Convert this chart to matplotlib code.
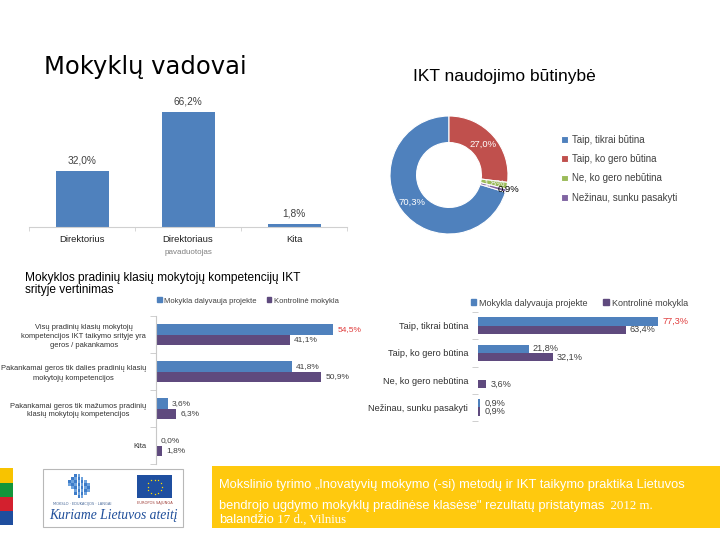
import numpy as np
import matplotlib.pyplot as plt
import matplotlib.patches as patches

W, H = 720, 540

# Mokyklu vadovai
lead_cats = ["Direktorius", "Direktoriaus", "Kita"]
lead_sub = ["", "pavaduotojas", ""]
lead_vals = [32.0, 66.2, 1.8]

# IKT naudojimo butinybe (vadovai)
need_cats = ["Taip, tikrai būtina", "Taip, ko gero būtina",
             "Ne, ko gero nebūtina", "Nežinau, sunku pasakyti"]
need_vals = [70.3, 27.0, 1.8, 0.9]

# kompetenciju vertinimas
series_names = ["Mokykla dalyvauja projekte", "Kontrolinė mokykla"]
comp_cats = ["Visų pradinių klasių mokytojų\nkompetencijos IKT taikymo srityje yra\ngeros / pakankamos",
             "Pakankamai geros tik dalies pradinių klasių\nmokytojų kompetencijos",
             "Pakankamai geros tik mažumos pradinių\nklasių mokytojų kompetencijos",
             "Kita"]
comp_proj = [54.5, 41.8, 3.6, 0.0]
comp_ctrl = [41.1, 50.9, 6.3, 1.8]

# butinybe (mokytojai)
need_proj = [77.3, 21.8, 0.0, 0.9]
need_ctrl = [63.4, 32.1, 3.6, 0.9]

BLUE = '#4F81BD'
PURPLE = '#5F4A7E'
PIE_COLORS = ['#4F81BD', '#C0504D', '#9BBB59', '#8064A2']
TXT = '#404040'
SANS = ['Liberation Sans', 'DejaVu Sans']
SERIF = ['Liberation Serif', 'DejaVu Serif']


def box(l, t, r, b):
    return [l / W, 1 - b / H, (r - l) / W, (b - t) / H]


def fx(x):
    return x / W


def fy(y):
    return 1 - y / H


def fmt(v):
    return f"{v:.1f}%".replace(".", ",")


fig = plt.figure(figsize=(7.2, 5.4), dpi=100)

# background / footer decorations in pixel coordinates
bg = fig.add_axes([0, 0, 1, 1])
bg.set_xlim(0, W)
bg.set_ylim(H, 0)
bg.axis('off')

flag = [('#F8C300', 468, 483), ('#13953B', 483, 497), ('#D3202E', 497, 511), ('#1F4E9E', 511, 525)]
for c, t, b in flag:
    bg.add_patch(patches.Rectangle((0, t), 13, b - t, color=c, lw=0))

bg.add_patch(patches.Rectangle((43, 469), 140, 58, fc='white', ec='#B8B8B8', lw=0.8))
bg.add_patch(patches.Rectangle((137, 475), 35, 23, fc='#1F4FA0', lw=0))
for a in np.linspace(0, 2 * np.pi, 13)[:-1]:
    bg.plot(154.5 + 7 * np.cos(a), 486.5 + 7 * np.sin(a), 's', ms=0.9, color='#FFDD00', mew=0)
# pixel map logo
logo = ["..##....",
        ".####...",
        "######..",
        "#######.",
        ".######.",
        "..#####.",
        "..####..",
        "...##..."]
for r, row in enumerate(logo):
    for c, ch in enumerate(row):
        if ch == '#':
            bg.add_patch(patches.Rectangle((68 + c * 3.2, 474 + r * 3), 2.6, 2.5,
                                           color=['#3D7CC9', '#6FA3DD'][(r + c) % 2], lw=0))
bg.text(82, 504, "MOKSLO · EDUKACIJOS · LANGAI", fontsize=2.6, color='#4A6A9A', ha='center', va='center')
bg.text(154.5, 503, "EUROPOS SĄJUNGA", fontsize=2.6, color='#A0403A', ha='center', va='center')
bg.text(113, 516, "Kuriame Lietuvos ateitį", fontsize=9.8, color='#1F4E9A', style='italic',
        family=SERIF, ha='center', va='center')

bg.add_patch(patches.Rectangle((212, 466), 508, 62, fc='#FFC90E', lw=0))
foot = dict(fontsize=9.3, color='white', va='center')
bg.text(219, 485, "Mokslinio tyrimo „Inovatyvių mokymo (-si) metodų ir IKT taikymo praktika Lietuvos",
        family=SANS, **foot)
t2 = bg.text(219, 506, "bendrojo ugdymo mokyklų pradinėse klasėse\" rezultatų pristatymas",
             family=SANS, **foot)
bg.annotate("  2012 m.", xy=(1, 0.5), xycoords=t2, family=SERIF, **foot)
t3 = bg.text(219, 520, "balandžio", family=SANS, **foot)
bg.annotate(" 17 d., Vilnius", xy=(1, 0.5), xycoords=t3, family=SERIF, **foot)

# titles
fig.text(fx(44), fy(67), "Mokyklų vadovai", fontsize=17.5, family=['DejaVu Sans'], va='center')
fig.text(fx(413), fy(76), "IKT naudojimo būtinybė", fontsize=12.5, family=SANS, va='center')
fig.text(fx(25), fy(284), "Mokyklos pradinių klasių mokytojų kompetencijų IKT\nsrityje vertinimas",
         fontsize=8.6, family=SANS, va='center', linespacing=0.9)

# --- chart 1: vadovai ---
ax1 = fig.add_axes(box(29, 100, 347, 227))
ax1.set_facecolor('none')
x1 = np.arange(len(lead_vals))
ax1.bar(x1, lead_vals, width=0.5, color=BLUE)
for xi, v in zip(x1, lead_vals):
    ax1.annotate(fmt(v), (xi, v), xytext=(0, 4), textcoords='offset points',
                 ha='center', va='bottom', fontsize=7.3, color=TXT, family=SANS)
ax1.set_xlim(-0.5, 2.5)
ax1.set_ylim(0, 73)
for s in ['top', 'right', 'left']:
    ax1.spines[s].set_visible(False)
ax1.spines['bottom'].set_color('#D0D0D0')
ax1.set_yticks([])
ax1.set_xticks(x1)
ax1.set_xticklabels(lead_cats, fontsize=6.8, color='#202020', family=SANS)
ax1.tick_params(axis='x', length=0, pad=6)
ax1.set_xticks([-0.5, 0.5, 1.5, 2.5], minor=True)
ax1.tick_params(axis='x', which='minor', length=3, color='#D0D0D0')
for xi, s in zip(x1, lead_sub):
    if s:
        ax1.annotate(s, (xi, 0), xytext=(0, -15.5), textcoords='offset points', ha='center',
                     va='top', fontsize=5.8, color='#808080', family=SANS, annotation_clip=False)

# --- chart 2: donut ---
ax2 = fig.add_axes(box(390, 116, 508, 234))
ax2.set_facecolor('none')
wedges, _, autotexts = ax2.pie(need_vals, colors=PIE_COLORS, startangle=90 + need_vals[0] * 3.6,
                               counterclock=False, autopct=lambda p: fmt(p), pctdistance=0.775,
                               wedgeprops=dict(width=0.45, edgecolor='white', linewidth=0.8),
                               textprops=dict(fontsize=6.8, family=SANS, color='white'))
autotexts[2].set_color('#F0F0F0')
autotexts[3].set_color('black')
px, py = autotexts[3].get_position()
autotexts[3].set_position((px * 1.35, py * 1.2))
ax2.set_xlim(-1, 1)
ax2.set_ylim(-1, 1)
fig.legend(wedges, need_cats, loc='upper left', bbox_to_anchor=(fx(557), fy(131)), frameon=False,
           borderaxespad=0, handlelength=0.7, handleheight=0.7, handletextpad=0.4, labelspacing=0.95,
           labelcolor=TXT, prop=dict(family=SANS, size=7))


def hbars(ax, proj, ctrl, xmax, h, show_zero, label_size):
    y = np.arange(len(proj))
    ax.barh(y - h / 2, proj, height=h, color=BLUE)
    ax.barh(y + h / 2, ctrl, height=h, color=PURPLE)
    for i, (a, b) in enumerate(zip(proj, ctrl)):
        if a > 0 or show_zero:
            ax.annotate(fmt(a), (a, i - h / 2), xytext=(3, 0), textcoords='offset points',
                        va='center', fontsize=label_size, family=SANS,
                        color='#E03C3C' if i == 0 else TXT)
        ax.annotate(fmt(b), (b, i + h / 2), xytext=(3, 0), textcoords='offset points',
                    va='center', fontsize=label_size, family=SANS, color=TXT)
    ax.set_facecolor('none')
    ax.set_xlim(0, xmax)
    ax.set_ylim(len(proj) - 0.5, -0.5)
    ax.set_xticks([])
    for s in ['top', 'right', 'bottom']:
        ax.spines[s].set_visible(False)
    ax.spines['left'].set_color('#C8C8C8')
    ax.set_yticks(y)
    ax.set_yticks(np.arange(len(proj) + 1) - 0.5, minor=True)
    ax.tick_params(axis='y', which='major', length=0)
    ax.tick_params(axis='y', which='minor', length=4, color='#C8C8C8')
    return y


h_leg = [patches.Patch(color=BLUE), patches.Patch(color=PURPLE)]

# --- chart 3: kompetenciju vertinimas ---
ax3 = fig.add_axes(box(156, 316, 351, 464))
hbars(ax3, comp_proj, comp_ctrl, 60, 0.29, True, 6)
ax3.set_yticklabels(comp_cats, fontsize=5.4, family=SANS, color='#303030',
                    multialignment='center', linespacing=1.4)
ax3.tick_params(axis='y', pad=7)
fig.legend(h_leg, series_names, loc='center left', bbox_to_anchor=(fx(154), fy(301)), ncol=2,
           frameon=False, borderaxespad=0, handlelength=0.6, handleheight=0.6, handletextpad=0.35,
           columnspacing=1.3, labelcolor=TXT, prop=dict(family=SANS, size=5.5))

# --- chart 4: butinybe mokytojai ---
ax4 = fig.add_axes(box(478, 312, 676, 421))
hbars(ax4, need_proj, need_ctrl, 85, 0.3, False, 6.6)
ax4.spines['left'].set_visible(False)
ax4.set_yticklabels(need_cats, fontsize=6.6, family=SANS, color='#303030')
ax4.tick_params(axis='y', pad=7)
fig.legend(h_leg, series_names, loc='center left', bbox_to_anchor=(fx(467), fy(303)), ncol=2,
           frameon=False, borderaxespad=0, handlelength=0.6, handleheight=0.6, handletextpad=0.3,
           columnspacing=1.8, labelcolor=TXT, prop=dict(family=SANS, size=6.5))

fig.savefig('out.png', dpi=100)
